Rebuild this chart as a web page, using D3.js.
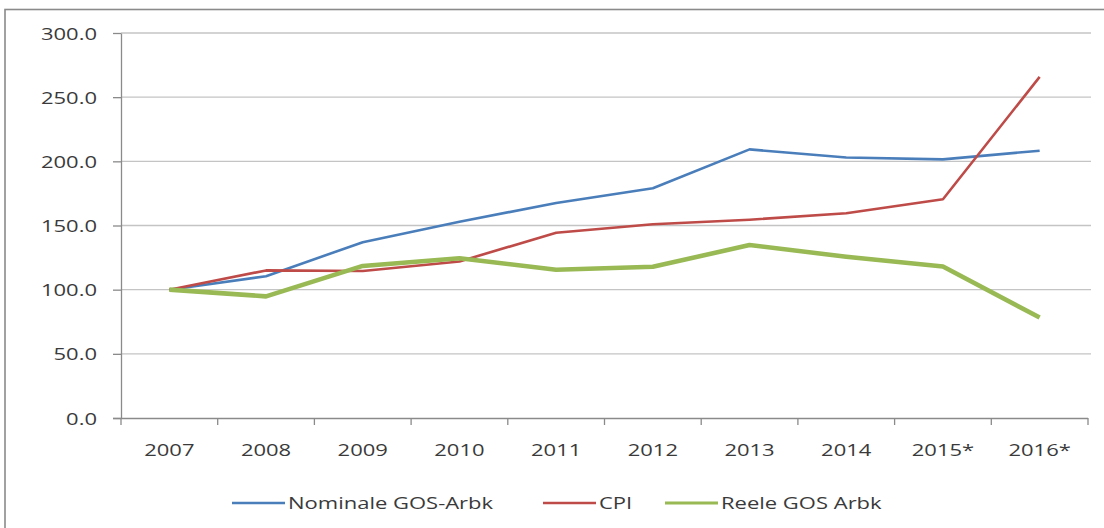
<!DOCTYPE html>
<html>
<head>
<meta charset="utf-8">
<script src="https://cdn.jsdelivr.net/npm/d3@7/dist/d3.min.js"></script>
<style>
  html, body { margin: 0; padding: 0; background: #fff; }
  svg { display: block; }
  text { font-family: "Open Sans", sans-serif; fill: #3a3a3a; }
</style>
</head>
<body>
<svg id="chart" width="1104" height="528"></svg>
<script>
const categories = ["2007","2008","2009","2010","2011","2012","2013","2014","2015*","2016*"];
const nominal = [100.0, 110.5, 137.0, 153.0, 167.5, 179.0, 209.3, 203.0, 201.5, 208.3];
const cpi     = [100.0, 115.0, 114.5, 122.0, 144.3, 151.0, 154.5, 159.5, 170.5, 265.8];
const reele   = [100.0, 94.8, 118.5, 124.5, 115.5, 117.8, 134.8, 125.7, 118.0, 78.3];
const seriesNames = ["Nominale GOS-Arbk", "CPI", "Reele GOS Arbk"];
const yTicks = [0, 50, 100, 150, 200, 250, 300];

(function () {
const SX = 1.42; // horizontal text stretch of the reference
const svg = d3.select("#chart");

// outer frame
svg.append("rect").attr("x", 5).attr("y", 9.5).attr("width", 1110).attr("height", 530)
  .attr("fill", "none").attr("stroke", "#8a8a8a").attr("stroke-width", 1.6);

const pLeft = 121, pRight = 1088, pTop = 33, pBottom = 418;
const x = d3.scaleBand().domain(categories).range([pLeft, pRight]).paddingInner(0).paddingOuter(0);
const y = d3.scaleLinear().domain([0, 300]).range([pBottom, pTop]);

// gridlines
svg.append("g").selectAll("line").data(yTicks.filter(d => d > 0)).join("line")
  .attr("x1", pLeft).attr("x2", 1091)
  .attr("y1", d => y(d)).attr("y2", d => y(d))
  .attr("stroke", "#c4c4c4").attr("stroke-width", 1.3);

// y axis
const yAxis = svg.append("g").attr("transform", `translate(${pLeft},0)`)
  .call(d3.axisLeft(y).tickValues(yTicks).tickFormat(d3.format(".1f")).tickSize(8).tickSizeOuter(0));
yAxis.select(".domain").attr("stroke", "#8a8a8a").attr("stroke-width", 1.3);
yAxis.selectAll(".tick line").attr("stroke", "#8a8a8a").attr("stroke-width", 1.3);
yAxis.selectAll(".tick text")
  .attr("font-size", 15.5)
  .attr("font-family", "'Open Sans', sans-serif")
  .attr("fill", "#3a3a3a")
  .attr("x", 0).attr("dy", 0).attr("y", 0)
  .attr("transform", `translate(-24,6) scale(${SX},1)`);

// x axis
const xAxis = svg.append("g").attr("transform", `translate(0,${pBottom})`)
  .call(d3.axisBottom(x).tickSize(0).tickSizeOuter(0));
xAxis.select(".domain").attr("stroke", "#8a8a8a").attr("stroke-width", 1.3)
  .attr("d", `M${pLeft - 8},0.5H${pRight}`);
xAxis.selectAll(".tick text")
  .attr("font-size", 15.5)
  .attr("font-family", "'Open Sans', sans-serif")
  .attr("fill", "#3a3a3a")
  .attr("y", 0).attr("dy", 0)
  .attr("transform", `translate(0,38) scale(${SX},1)`);
// category boundary ticks
const bounds = categories.map(c => x(c)).concat([pRight]);
svg.append("g").selectAll("line").data(bounds).join("line")
  .attr("x1", d => d).attr("x2", d => d)
  .attr("y1", pBottom).attr("y2", pBottom + 7)
  .attr("stroke", "#8a8a8a").attr("stroke-width", 1.3);

// lines
const cx = c => x(c) + x.bandwidth() / 2;
const line = d3.line().x((d, i) => cx(categories[i])).y(d => y(d));
const series = [
  { name: seriesNames[0], values: nominal, color: "#4a7ebb", width: 2.6 },
  { name: seriesNames[1], values: cpi, color: "#be4b48", width: 2.6 },
  { name: seriesNames[2], values: reele, color: "#98b954", width: 4.6 }
];
svg.append("g").selectAll("path").data(series).join("path")
  .attr("d", s => line(s.values))
  .attr("fill", "none")
  .attr("stroke", s => s.color)
  .attr("stroke-width", s => s.width)
  .attr("stroke-linejoin", "round")
  .attr("stroke-linecap", "butt");

// legend
const legendItems = [
  { s: series[0], x0: 232 },
  { s: series[1], x0: 543 },
  { s: series[2], x0: 665 }
];
const lg = svg.append("g");
legendItems.forEach(it => {
  lg.append("line").attr("x1", it.x0).attr("x2", it.x0 + 53)
    .attr("y1", 503).attr("y2", 503)
    .attr("stroke", it.s.color).attr("stroke-width", it.s.width > 4 ? 3.2 : 2.6);
  lg.append("text").text(it.s.name)
    .attr("font-size", 15.5)
    .attr("transform", `translate(${it.x0 + 56},509) scale(${SX},1)`);
});
})();
</script>
</body>
</html>
